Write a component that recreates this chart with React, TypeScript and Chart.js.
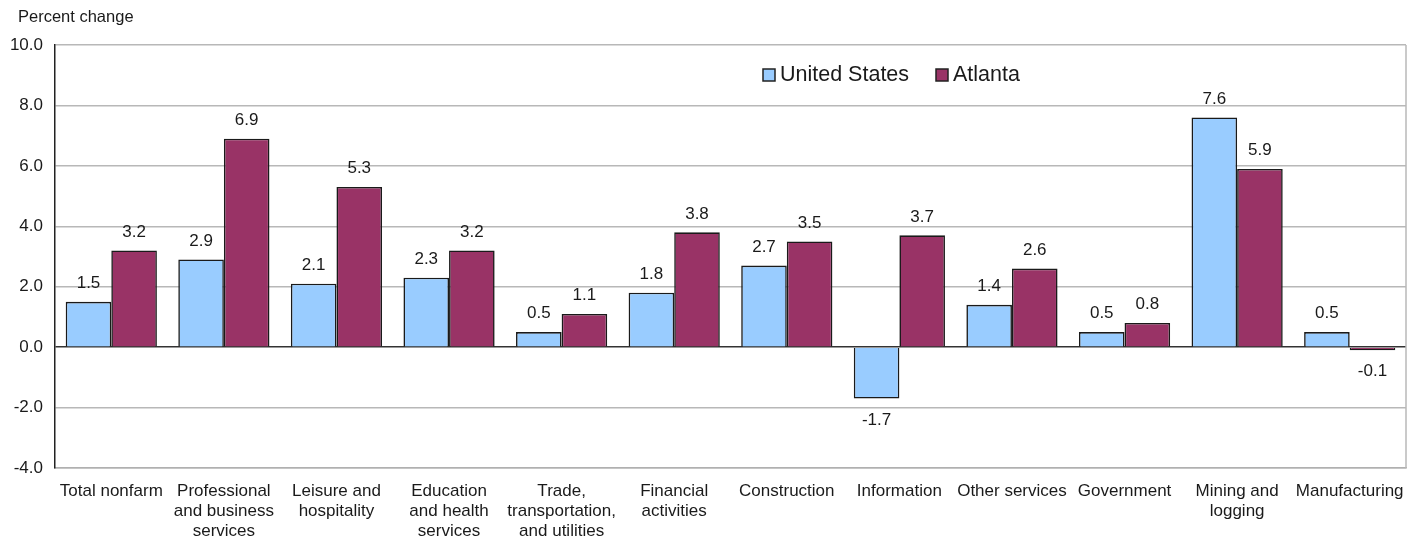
import React, { useEffect, useRef } from "react";
import { Chart, registerables } from "chart.js";

Chart.register(...registerables);

const categories: (string | string[])[] = [
  "Total nonfarm",
  ["Professional", "and business", "services"],
  ["Leisure and", "hospitality"],
  ["Education", "and health", "services"],
  ["Trade,", "transportation,", "and utilities"],
  ["Financial", "activities"],
  "Construction",
  "Information",
  "Other services",
  "Government",
  ["Mining and", "logging"],
  "Manufacturing",
];

const usValues = [1.5, 2.9, 2.1, 2.3, 0.5, 1.8, 2.7, -1.7, 1.4, 0.5, 7.6, 0.5];
const atlantaValues = [3.2, 6.9, 5.3, 3.2, 1.1, 3.8, 3.5, 3.7, 2.6, 0.8, 5.9, -0.1];

const seriesNames = ["United States", "Atlanta"];
const seriesColors = ["#99CCFF", "#993366"];

const yMin = -4;
const yMax = 10;
const yStep = 2;

const FONT = "'Liberation Sans', Arial, sans-serif";
const TEXT = "#1a1a1a";

const extrasPlugin = {
  id: "extras",
  afterDatasetsDraw(chart: any) {
    const ctx = chart.ctx;
    ctx.save();
    // value labels
    ctx.font = `17px ${FONT}`;
    ctx.fillStyle = TEXT;
    ctx.textAlign = "center";
    chart.data.datasets.forEach((ds: any, di: number) => {
      const meta = chart.getDatasetMeta(di);
      meta.data.forEach((bar: any, i: number) => {
        const v = ds.data[i];
        const txt = v.toFixed(1);
        if (v >= 0) {
          ctx.textBaseline = "bottom";
          ctx.fillText(txt, bar.x, bar.y - 10);
        } else {
          ctx.textBaseline = "top";
          ctx.fillText(txt, bar.x, bar.y + 13);
        }
      });
    });
    // title
    ctx.textAlign = "left";
    ctx.textBaseline = "middle";
    ctx.font = `16.5px ${FONT}`;
    ctx.fillText("Percent change", 18, 17);
    // legend
    const items = [
      { x: 763, label: seriesNames[0], color: seriesColors[0] },
      { x: 936, label: seriesNames[1], color: seriesColors[1] },
    ];
    ctx.font = `21.5px ${FONT}`;
    items.forEach((it) => {
      ctx.fillStyle = it.color;
      ctx.fillRect(it.x, 69, 12, 12);
      ctx.strokeStyle = "#222";
      ctx.lineWidth = 1.5;
      ctx.strokeRect(it.x, 69, 12, 12);
      ctx.fillStyle = TEXT;
      ctx.fillText(it.label, it.x + 17, 75);
    });
    ctx.restore();
  },
};

export default function App() {
  const ref = useRef<HTMLCanvasElement | null>(null);
  useEffect(() => {
    document.body.style.margin = "0";
    const canvas = ref.current!;
    const chart = new Chart(canvas, {
      type: "bar",
      data: {
        labels: categories,
        datasets: [
          {
            label: seriesNames[0],
            data: usValues,
            backgroundColor: seriesColors[0],
            borderColor: "#1a1a1a",
            borderWidth: 1.6,
            categoryPercentage: 0.81,
            barPercentage: 1,
          },
          {
            label: seriesNames[1],
            data: atlantaValues,
            backgroundColor: seriesColors[1],
            borderColor: "#1a1a1a",
            borderWidth: 1.6,
            categoryPercentage: 0.81,
            barPercentage: 1,
          },
        ],
      },
      options: {
        animation: false,
        responsive: false,
        layout: { padding: { top: 45, right: 15, left: 0, bottom: 0 } },
        plugins: {
          legend: { display: false },
          tooltip: { enabled: false },
          title: { display: false },
        },
        scales: {
          x: {
            grid: { display: false, drawTicks: false },
            border: { display: true, color: "#b0b0b0", width: 1.5 },
            ticks: {
              color: TEXT,
              font: { family: FONT, size: 17, lineHeight: 1.18 },
              maxRotation: 0,
              autoSkip: false,
              padding: 13,
            },
            afterFit(scale: any) {
              scale.height = 72;
            },
          },
          y: {
            min: yMin,
            max: yMax,
            ticks: {
              stepSize: yStep,
              color: TEXT,
              font: { family: FONT, size: 17 },
              padding: 12,
              callback: (v: any) => Number(v).toFixed(1),
            },
            grid: {
              drawTicks: false,
              lineWidth: 1.5,
              color: (c: any) => (c.tick && c.tick.value === 0 ? "#333" : "#b8b8b8"),
            },
            border: { display: true, color: "#222", width: 1.5 },
            afterFit(scale: any) {
              scale.width = 55;
            },
          },
        },
      },
      plugins: [
        extrasPlugin,
        {
          id: "frame",
          afterDraw(chart: any) {
            const { ctx, chartArea } = chart;
            ctx.save();
            ctx.strokeStyle = "#b8b8b8";
            ctx.lineWidth = 1.5;
            ctx.beginPath();
            ctx.moveTo(chartArea.right, chartArea.top);
            ctx.lineTo(chartArea.right, chartArea.bottom);
            ctx.stroke();
            ctx.restore();
          },
        },
      ],
    } as any);
    return () => chart.destroy();
  }, []);
  return <canvas ref={ref} width={1421} height={540} style={{ display: "block" }} />;
}
